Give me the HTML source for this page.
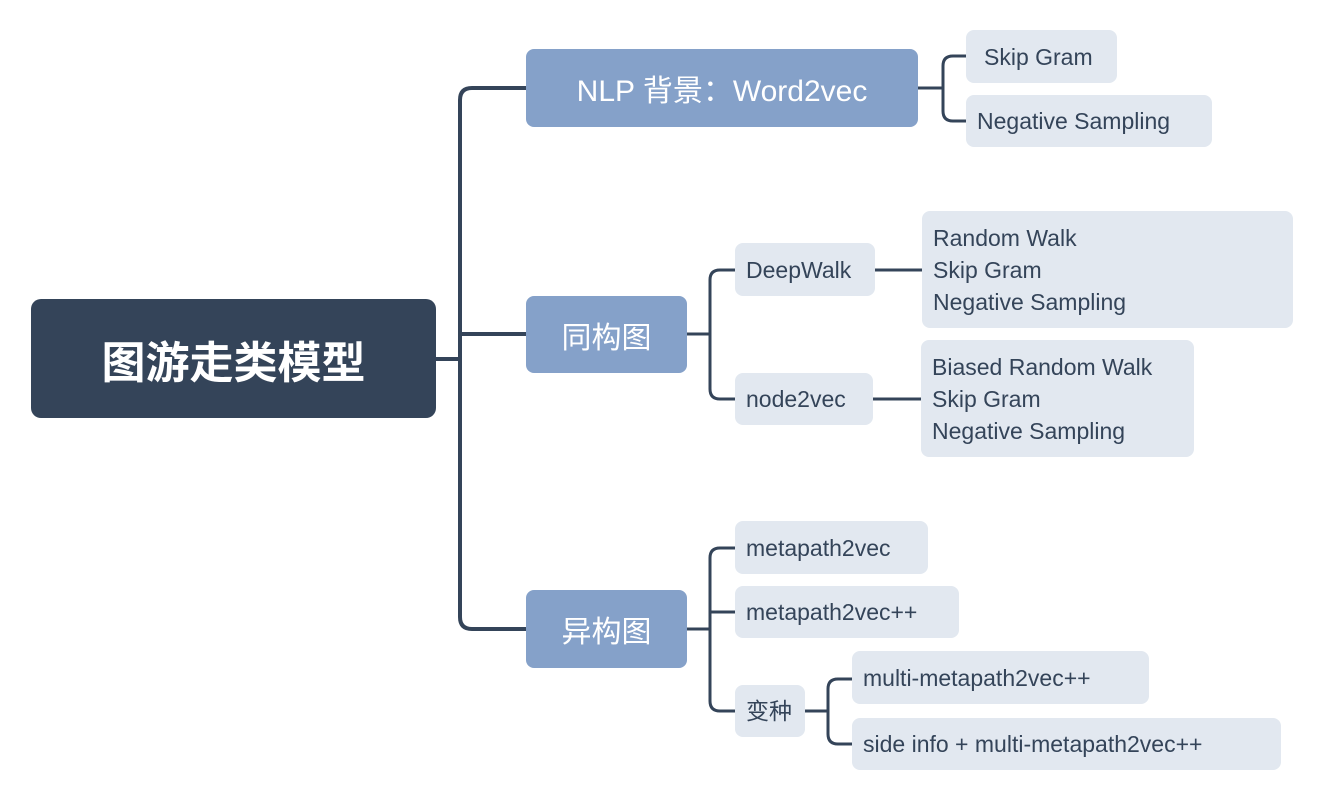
<!DOCTYPE html>
<html><head><meta charset="utf-8"><style>
body{margin:0;width:1325px;height:797px;background:#fff;position:relative;overflow:hidden;font-family:"Liberation Sans","Noto Sans CJK SC",sans-serif}
.n{position:absolute;box-sizing:border-box;display:flex;align-items:center;border-radius:8px}
.r{background:#344459;color:#fff;font-size:44px;font-weight:bold;justify-content:center;border-radius:10px}
.b{background:#85a1c9;color:#fff;font-size:30px;justify-content:center}
.l{background:#e2e8f0;color:#344459;font-size:23px;padding-left:11px;line-height:32px}
svg{position:absolute;left:0;top:0}
</style></head><body>
<svg width="1325" height="797" fill="none" stroke="#344459" stroke-linecap="round">
<g stroke-width="4">
<path d="M436 359H460"/>
<path d="M526 88H472Q460 88 460 100V617Q460 629 472 629H526"/>
<path d="M460 334H526"/>
</g>
<g stroke-width="3">
<path d="M918 88H943"/>
<path d="M966 56H953Q943 56 943 66V111Q943 121 953 121H966"/>
<path d="M687 334H710"/>
<path d="M735 270H720Q710 270 710 280V389Q710 399 720 399H735"/>
<path d="M875 270H922"/><path d="M873 399H921"/>
<path d="M687 629H710"/>
<path d="M735 548H720Q710 548 710 558V701Q710 711 720 711H735"/>
<path d="M710 612H735"/>
<path d="M805 711H828"/>
<path d="M852 679H838Q828 679 828 689V734Q828 744 838 744H852"/>
</g>
</svg>
<div class="n r" style="left:31px;top:299px;width:405px;height:119px">图游走类模型</div>
<div class="n b" style="left:526px;top:49px;width:392px;height:78px">NLP 背景：Word2vec</div>
<div class="n b" style="left:526px;top:296px;width:161px;height:77px">同构图</div>
<div class="n b" style="left:526px;top:590px;width:161px;height:78px">异构图</div>
<div class="n l" style="left:966px;top:30px;width:151px;height:53px;padding-left:18px">Skip Gram</div>
<div class="n l" style="left:966px;top:95px;width:246px;height:52px">Negative Sampling</div>
<div class="n l" style="left:735px;top:243px;width:140px;height:53px">DeepWalk</div>
<div class="n l" style="left:735px;top:373px;width:138px;height:52px">node2vec</div>
<div class="n l" style="left:922px;top:211px;width:371px;height:117px">Random Walk<br>Skip Gram<br>Negative Sampling</div>
<div class="n l" style="left:921px;top:340px;width:273px;height:117px">Biased Random Walk<br>Skip Gram<br>Negative Sampling</div>
<div class="n l" style="left:735px;top:521px;width:193px;height:53px">metapath2vec</div>
<div class="n l" style="left:735px;top:586px;width:224px;height:52px">metapath2vec++</div>
<div class="n l" style="left:735px;top:685px;width:70px;height:52px">变种</div>
<div class="n l" style="left:852px;top:651px;width:297px;height:53px">multi-metapath2vec++</div>
<div class="n l" style="left:852px;top:718px;width:429px;height:52px">side info + multi-metapath2vec++</div>
</body></html>
